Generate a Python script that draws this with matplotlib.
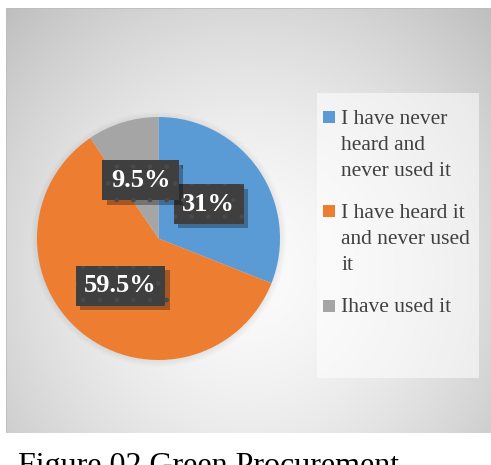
import numpy as np
import matplotlib
matplotlib.use("Agg")
import matplotlib.pyplot as plt
from matplotlib.patches import Rectangle, Circle
import matplotlib.patheffects as pe

# Survey responses on green procurement awareness
categories = ["I have never\nheard and\nnever used it",
              "I have heard it\nand never used\nit",
              "Ihave used it"]
shares = [31.0, 59.5, 9.5]
share_labels = ["31%", "59.5%", "9.5%"]
colors = ["#5B9BD5", "#ED7D31", "#A5A5A5"]
caption = "Figure 02 Green Procurement"

W, H = 491, 465
fig = plt.figure(figsize=(W / 100, H / 100), dpi=100)
fig.patch.set_facecolor("white")

def fx(px):
    return px / W

def fy(py):
    return 1 - py / H

# Chart panel with a soft radial gradient
bg = fig.add_axes([fx(6), fy(433), 1 - fx(6), fy(8) - fy(433)])
bg.set_axis_off()
ny, nx = 300, 320
yy, xx = np.mgrid[0:ny, 0:nx]
cx, cy = 0.50 * nx, 0.62 * ny
d = np.sqrt(((xx - cx) / (0.62 * nx)) ** 2 + ((yy - cy) / (0.75 * ny)) ** 2)
d = np.clip(d, 0, 1.2)
level = 0.985 - 0.19 * d ** 1.6
img = np.dstack([level, level, level])
bg.imshow(img, extent=[0, 1, 0, 1], aspect="auto", interpolation="bilinear")
bg.set_xlim(0, 1)
bg.set_ylim(0, 1)
bg.plot([0, 0, 1], [0, 1, 1], color="#bdbdbd", lw=1.2, transform=bg.transAxes)

# Legend panel
fig.patches.append(Rectangle((fx(317), fy(378)), fx(479) - fx(317), fy(93) - fy(378),
                             transform=fig.transFigure, facecolor="white",
                             alpha=0.55, edgecolor="none", zorder=1))

# Pie
cxp, cyp, rp = 158.5, 238.5, 121.5
ax = fig.add_axes([fx(cxp - rp), fy(cyp + rp), fx(2 * rp), fy(cyp - rp) - fy(cyp + rp)])
ax.set_axis_off()
for k in range(6):
    ax.add_patch(Circle((0.004, -0.006), 1.0 + 0.010 * k, facecolor="black",
                        alpha=0.012, edgecolor="none", zorder=0, clip_on=False))
wedges, texts = ax.pie(shares, colors=colors, startangle=90, counterclock=False,
                       radius=1.0, labels=share_labels, labeldistance=0.5,
                       wedgeprops=dict(linewidth=0, zorder=2),
                       textprops=dict(color="white", fontsize=19, fontweight="bold",
                                      family="Liberation Serif", ha="center", va="center"))
plt.rcParams["hatch.linewidth"] = 0.9
for t in texts:
    t.set_zorder(5)
    t.set_bbox(dict(boxstyle="square,pad=0.32", facecolor="#3f3f3f",
                    edgecolor="#4a4a4a", linewidth=0, hatch="."))
    t.get_bbox_patch().set_path_effects([
        pe.SimplePatchShadow(offset=(3, -3), shadow_rgbFace="black", alpha=0.3),
        pe.Normal()])
ax.set_xlim(-1, 1)
ax.set_ylim(-1, 1)
ax.set_aspect("auto")

# Legend entries: marker square beside the first text line
entry_tops = [111, 205, 300]
line_step = 26
for lab, col, top in zip(categories, colors, entry_tops):
    fig.patches.append(Rectangle((fx(323), fy(top + 12)), fx(12), fy(top) - fy(top + 12),
                                 transform=fig.transFigure, facecolor=col,
                                 edgecolor="none", zorder=3))
    for i, line in enumerate(lab.split("\n")):
        fig.text(fx(341), fy(top + 12.5 + i * line_step), line, ha="left",
                 va="baseline", fontsize=15.5, family="Liberation Serif",
                 color="#404040", zorder=4)

# Caption area
fig.patches.append(Rectangle((0, 0), fx(484), fy(434), transform=fig.transFigure,
                             facecolor="white", edgecolor="none", zorder=6))
fig.text(fx(18), fy(474), caption, ha="left", va="baseline", fontsize=23,
         family="Liberation Serif", color="black", zorder=7)

fig.savefig("out.png", dpi=100)
